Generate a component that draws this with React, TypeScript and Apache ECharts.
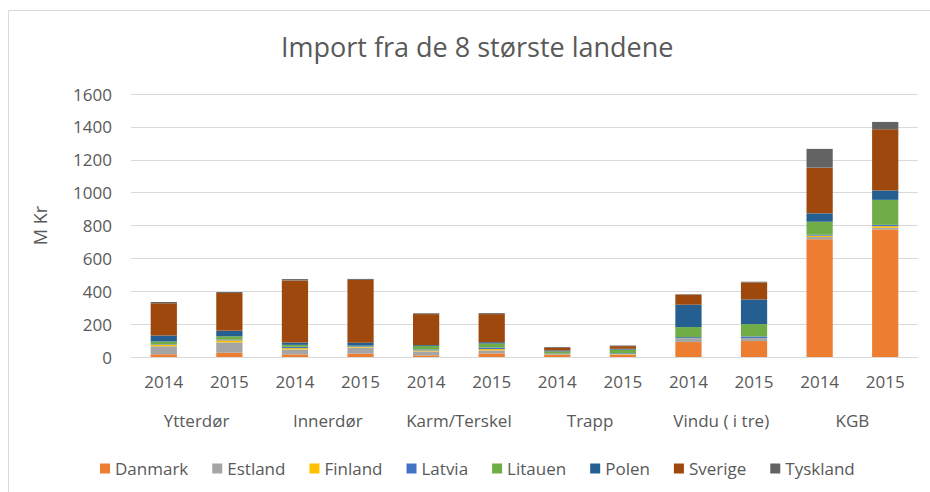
import React, { useEffect, useRef } from "react";
import * as echarts from "echarts";

const groups = ["Ytterdør", "Innerdør", "Karm/Terskel", "Trapp", "Vindu ( i tre)", "KGB"];
const years = ["2014", "2015"];
const yTicks = { min: 0, max: 1600, interval: 200 };

const countries = ["Danmark", "Estland", "Finland", "Latvia", "Litauen", "Polen", "Sverige", "Tyskland"];
const colors = ["#ED7D31", "#A5A5A5", "#FFC000", "#4472C4", "#70AD47", "#255E91", "#9E480E", "#636363"];

const danmark = [16, 26, 16, 20, 10, 22, 12, 14, 91, 97, 716, 776];
const estland = [49, 63, 30, 37, 24, 18, 5, 3, 20, 14, 14, 10];
const finland = [10, 12, 8, 4, 6, 8, 2, 2, 2, 2, 8, 10];
const latvia = [3, 5, 8, 4, 6, 10, 3, 4, 8, 12, 6, 8];
const litauen = [16, 20, 12, 4, 22, 24, 12, 22, 61, 75, 79, 152];
const polen = [37, 33, 14, 18, 5, 8, 6, 5, 136, 150, 51, 57];
const sverige = [196, 230, 378, 382, 188, 171, 15, 16, 61, 104, 278, 372];
const tyskland = [8, 6, 8, 6, 5, 6, 5, 4, 3, 4, 114, 45];

const seriesData = [danmark, estland, finland, latvia, litauen, polen, sverige, tyskland];

export default function App() {
  const ref = useRef<HTMLDivElement>(null);
  useEffect(() => {
    if (!ref.current) return;
    const chart = echarts.init(ref.current, null, { renderer: "svg" });
    const font = "'Open Sans', 'Noto Sans', sans-serif";
    const textColor = "#595959";
    const yearCats: string[] = [];
    groups.forEach(() => years.forEach((y) => yearCats.push(y)));
    chart.setOption({
      animation: false,
      backgroundColor: "#ffffff",
      textStyle: { fontFamily: font, color: textColor },
      title: {
        text: "Import fra de 8 største landene",
        left: 276,
        top: 28,
        textStyle: { fontFamily: font, fontSize: 27, fontWeight: "normal", color: textColor },
      },
      graphic: [
        {
          type: "rect",
          shape: { x: 8.5, y: 10.5, width: 940, height: 500 },
          style: { fill: "none", stroke: "#D9D9D9", lineWidth: 1 },
          silent: true,
        },
      ],
      legend: {
        top: 455,
        left: 95,
        itemWidth: 10,
        itemHeight: 10,
        itemGap: 24,
        icon: "rect",
        textStyle: { fontFamily: font, fontSize: 17, color: textColor },
        data: countries,
      },
      grid: { left: 131, right: 12, top: 94, bottom: 135 },
      xAxis: [
        {
          type: "category",
          data: yearCats,
          position: "bottom",
          axisLine: { show: false },
          axisTick: { show: false },
          axisLabel: { fontFamily: font, fontSize: 17, color: textColor, margin: 16, interval: 0 },
        },
        {
          type: "category",
          data: groups,
          position: "bottom",
          offset: 40,
          axisLine: { show: false },
          axisTick: { show: false },
          axisLabel: { fontFamily: font, fontSize: 17, color: textColor, margin: 15, interval: 0 },
        },
      ],
      yAxis: {
        type: "value",
        min: yTicks.min,
        max: yTicks.max,
        interval: yTicks.interval,
        name: "M Kr",
        nameLocation: "middle",
        nameGap: 82,
        nameRotate: 90,
        nameTextStyle: { fontFamily: font, fontSize: 18, color: textColor },
        axisLine: { show: false },
        axisTick: { show: false },
        axisLabel: {
          fontFamily: font,
          fontSize: 17,
          color: textColor,
          margin: 19,
          formatter: (v: number) => String(v),
        },
        splitLine: { lineStyle: { color: "#D9D9D9", width: 1 } },
      },
      series: countries.map((name, i) => ({
        name,
        type: "bar",
        stack: "total",
        xAxisIndex: 0,
        barWidth: "40%",
        itemStyle: { color: colors[i] },
        data: seriesData[i],
      })),
    });
    return () => chart.dispose();
  }, []);
  return (
    <div
      ref={ref}
      style={{ position: "absolute", left: 0, top: 0, width: 930, height: 492 }}
    />
  );
}
